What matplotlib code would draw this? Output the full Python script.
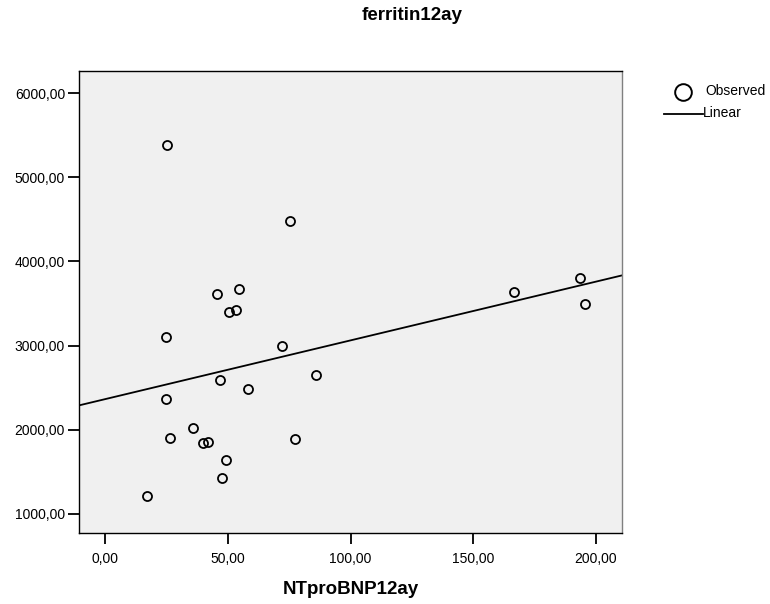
import matplotlib
matplotlib.use("Agg")
import matplotlib.pyplot as plt
import numpy as np
from matplotlib.lines import Line2D
from matplotlib.ticker import FuncFormatter

plt.rcParams['font.family'] = ['Liberation Sans', 'DejaVu Sans']

# NTproBNP12ay (x) vs ferritin12ay (y)
ntprobnp = [25.1, 75.2, 45.5, 54.6, 50.3, 53.2, 24.8, 72.1, 46.6, 58.1, 85.8, 24.6,
            35.7, 26.4, 39.9, 41.7, 77.4, 49.0, 47.5, 17.1, 166.7, 193.6, 195.5]
ferritin = [5383, 4476, 3612, 3674, 3397, 3428, 3097, 2996, 2595, 2480, 2656, 2366,
            2026, 1899, 1841, 1859, 1890, 1643, 1427, 1216, 3639, 3806, 3489]
x_ticks = [0, 50, 100, 150, 200]
y_ticks = [1000, 2000, 3000, 4000, 5000, 6000]

x = np.array(ntprobnp)
y = np.array(ferritin)
slope, intercept = np.polyfit(x, y, 1)

fig = plt.figure(figsize=(7.7, 6.04), dpi=100)
ax = fig.add_axes([79 / 770, 1 - 533 / 604, 543 / 770, 462 / 604])
ax.set_facecolor('#f0f0f0')

xlim = (-10.8, 210.8)
ax.set_xlim(xlim)
ax.set_ylim(774, 6262)

xs = np.array(xlim)
ax.plot(xs, intercept + slope * xs, color='black', lw=1.3, zorder=2)
ax.plot(x, y, 'o', mfc='none', mec='black', mew=1.3, ms=6.5, zorder=3)

fmt = FuncFormatter(lambda v, p: f"{v:.2f}".replace('.', ','))
ax.set_xticks(x_ticks)
ax.set_yticks(y_ticks)
ax.xaxis.set_major_formatter(fmt)
ax.yaxis.set_major_formatter(fmt)
ax.tick_params(axis='both', labelsize=10, length=8, width=1.3, color='black')
ax.tick_params(axis='y', pad=2)
ax.tick_params(axis='x', pad=6)

for side in ['left', 'bottom', 'top']:
    ax.spines[side].set_color('black')
    ax.spines[side].set_linewidth(1.0)
ax.spines['right'].set_color('#808080')
ax.spines['right'].set_linewidth(1.0)

fig.text(412 / 770, 1 - 15 / 604, 'ferritin12ay', ha='center', va='center',
         fontsize=13.5, fontweight='bold')
fig.text(351 / 770, 1 - 589 / 604, 'NTproBNP12ay', ha='center', va='center',
         fontsize=13.5, fontweight='bold')

# legend
fig.add_artist(Line2D([683 / 770], [1 - 92 / 604], marker='o', mfc='none', mec='black',
                      mew=1.4, ms=12, transform=fig.transFigure))
fig.text(705 / 770, 1 - 91 / 604, 'Observed', ha='left', va='center', fontsize=10)
fig.add_artist(Line2D([664 / 770, 703 / 770], [1 - 114 / 604, 1 - 114 / 604],
                      color='black', lw=1.3, transform=fig.transFigure))
fig.text(703 / 770, 1 - 113 / 604, 'Linear', ha='left', va='center', fontsize=10)

fig.savefig('out.png', dpi=100)
